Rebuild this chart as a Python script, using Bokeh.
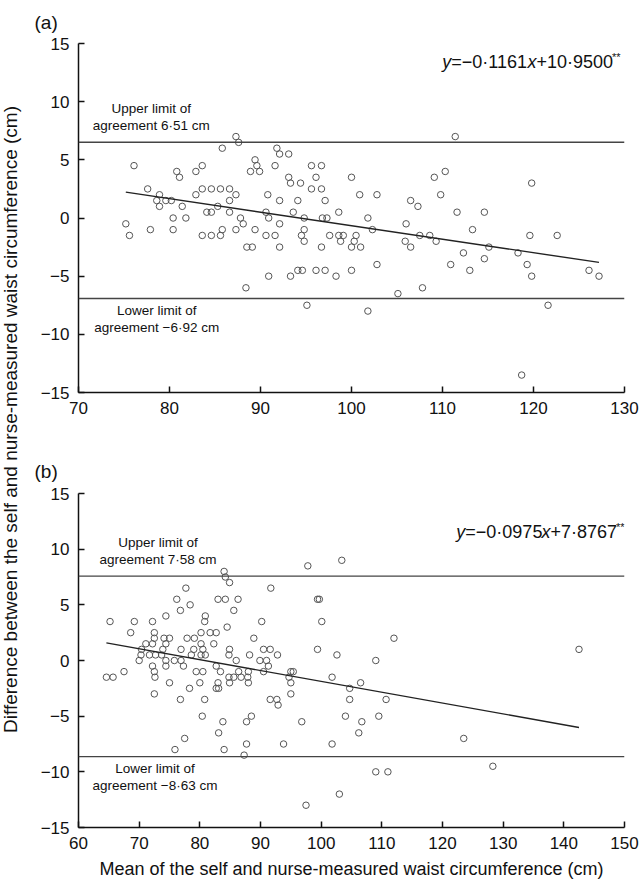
from math import pi

from bokeh.embed import file_html
from bokeh.layouts import column, row
from bokeh.models import FixedTicker, Label, Span
from bokeh.plotting import figure
from bokeh.resources import INLINE

FONT = "Liberation Sans"

# (a) mean of self & nurse waist (cm) vs difference self - nurse (cm)
a_mean = [75.2, 75.6, 76.1, 77.6, 77.9, 78.6, 78.9, 78.9, 79.6, 80.2,
          80.4, 80.4, 80.8, 81.1, 81.4, 81.8, 82.9, 82.9, 83.6, 83.6,
          83.6, 84.1, 84.6, 84.6, 84.6, 85.3, 85.6, 85.6, 85.8, 85.8,
          86.6, 86.6, 86.6, 87.3, 87.6, 87.3, 87.3, 87.8, 88.1, 88.4,
          88.5, 89.1, 88.9, 89.4, 89.6, 89.9, 89.4, 90.6, 90.6, 90.8,
          90.9, 90.9, 91.6, 91.6, 91.8, 92.1, 92.1, 92.1, 92.1, 93.1,
          93.1, 93.3, 93.3, 93.6, 94.1, 94.4, 94.1, 94.6, 94.5, 94.8,
          94.8, 94.8, 95.1, 95.6, 95.6, 96.1, 96.1, 96.7, 96.7, 96.7,
          97.1, 96.8, 97.3, 97.1, 97.6, 98.3, 98.6, 98.6, 98.8, 99.1,
          100.0, 100.0, 100.0, 100.3, 100.5, 100.9, 101.0, 101.8, 102.3, 102.8,
          102.8, 101.8, 105.1, 105.9, 106.0, 106.5, 106.5, 107.3, 107.5, 107.8,
          108.6, 109.1, 109.3, 109.8, 110.3, 110.9, 111.4, 111.6, 112.3, 113.0,
          113.3, 114.6, 114.6, 115.1, 118.3, 119.3, 119.6, 119.8, 119.8, 121.6,
          122.6, 126.1, 127.2, 118.7]
a_diff = [-0.5, -1.5, 4.5, 2.5, -1, 1.5, 2, 1, 1.5, 1.5,
          0, -1, 4, 3.5, 1, 0, 4, 2, 4.5, 2.5,
          -1.5, 0.5, 0.5, 2.5, -1.5, 1, 2.5, -1.5, -1, 6,
          2.5, 1.5, 0.5, 7, 6.5, 2, -1, 0, -0.5, -6,
          -2.5, -2.5, 4, 5, 4.5, 4, -1, 0.5, -1.5, 2,
          0, -5, 4.5, -1.5, 6, 5.5, 1.5, -0.5, -2.5, 5.5,
          3.5, 3, -5, 0.5, 1.5, 3, -4.5, -4.5, -1.5, 0,
          -1, -2, -7.5, 4.5, 2.5, 3.5, -4.5, 4.5, 2.5, -2.5,
          1.5, 0, 0, -4.5, -1.5, -5, 0.5, -1.5, -2, -1.5,
          3.5, -2.5, -4.5, -2, -1.5, 2, -2.5, 0, -1, 2,
          -4, -8, -6.5, -2, -0.5, 1.5, -2.5, 1, -1.5, -6,
          -1.5, 3.5, -2, 2, 4, -4, 7, 0.5, -3, -4.5,
          -1, 0.5, -3.5, -2.5, -3, -4, -1.5, 3, -5, -7.5,
          -1.5, -4.5, -5, -13.5]
a_limits = [6.51, -6.92]
a_fit = [-0.1161, 10.9500]
a_fit_label = ["\u22120\u00b71161", "10\u00b79500"]
a_xticks = [70, 80, 90, 100, 110, 120, 130]

# (b)
b_mean = [64.6, 65.7, 65.2, 67.5, 68.6, 69.2, 70.0, 70.3, 70.4, 71.1,
          71.7, 72.2, 72.2, 72.5, 72.5, 72.7, 72.2, 72.5, 72.6, 72.5,
          73.7, 73.9, 74.1, 74.4, 74.4, 74.4, 74.4, 75.0, 75.0, 75.8,
          75.9, 76.2, 76.8, 76.8, 76.9, 76.9, 77.3, 77.7, 77.5, 77.9,
          78.3, 78.4, 78.6, 79.0, 79.1, 79.4, 80.0, 80.2, 80.2, 80.2,
          80.5, 80.5, 80.4, 80.8, 80.9, 80.9, 80.8, 81.7, 82.3, 82.7,
          82.7, 83.0, 82.7, 83.1, 83.4, 83.0, 83.1, 83.8, 84.2, 84.0,
          84.2, 84.9, 84.5, 84.8, 84.9, 84.8, 84.9, 84.0, 85.6, 85.6,
          86.0, 86.3, 86.4, 86.8, 87.3, 87.7, 87.7, 87.9, 88.0, 88.0,
          88.2, 88.5, 88.9, 89.9, 90.2, 90.5, 90.5, 91.0, 91.3, 91.6,
          91.7, 91.6, 92.7, 92.8, 92.9, 93.8, 94.7, 95.0, 95.4, 95.0,
          95.0, 96.8, 97.5, 97.8, 103.4, 99.4, 99.7, 100.1, 99.4, 102.6,
          112.0, 109.0, 142.5, 101.8, 104.7, 106.5, 104.7, 110.7, 104.0, 109.5,
          106.7, 106.2, 101.8, 123.5, 109.0, 111.0, 128.3, 103.0]
b_diff = [-1.5, -1.5, 3.5, -1, 2.5, 3.5, 0, 0.5, 1, 1.5,
          0.5, 1.5, 3.5, 2.5, 2, 0.5, -0.5, -1, -1.5, -3,
          0.5, 1, 2, 1.5, 0, -0.5, 4, 2, -2, 0,
          -8, 5.5, 4.5, -3.5, 1, 0, -0.5, 6.5, -7, 2,
          -2.5, 5, 0.5, 1, 2, -1, -2, 2.5, 1.5, 0.5,
          1, -1, -5, 3.5, 4, 0.5, -3.5, 2.5, 1.5, 2.5,
          -0.5, -2, -2.5, -2.5, -1, 5.5, -6.5, -5.5, 5.5, 8,
          7.5, 7, 3, 0.5, 1, -1.5, -2, -8, 4.5, -1.5,
          0, 5.5, -1, -1.5, -8.5, -5.5, -7.5, -1.5, -1, -2,
          0.5, -5, 2, 0, 3.5, 1, -1, 0, -0.5, 1,
          6.5, -3.5, -3.5, 0.5, -4, -7.5, -1.5, -1, -1, -2,
          -3, -5.5, -13, 8.5, 9, 5.5, 5.5, 3.5, 1, 0.5,
          2, 0, 1, -1.5, -2.5, -2, -3.5, -3.5, -5, -5,
          -5.5, -6.5, -7.5, -7, -10, -10, -9.5, -12]
b_limits = [7.58, -8.63]
b_fit = [-0.0975, 7.8767]
b_fit_label = ["\u22120\u00b70975", "7\u00b78767"]
b_xticks = [60, 70, 80, 90, 100, 110, 120, 130, 140, 150]

y_ticks = [-15, -10, -5, 0, 5, 10, 15]

Y_TITLE = "Difference between the self and nurse-measured waist circumference (cm)"
X_TITLE = "Mean of the self and nurse-measured waist circumference (cm)"

# advance widths (per 1000 em) of Liberation Sans, to butt the equation pieces together
ADV = {"y": 500, "x": 500, "=": 584, "\u2212": 584, "+": 584, "\u00b7": 278, "*": 389}


def text_width(s, size):
    return sum(ADV.get(c, 556) for c in s) * size / 1000


def add_text(p, text, size="13.5px", **kw):
    p.add_layout(Label(text=text, text_font=FONT, text_font_size=size,
                       text_color="#111111", **kw))


def make_panel(tag, tag_standoff, xs, ys, xticks, limits, fit, fit_label, upper_x, lower_x,
               eq_y, eq_pad, height, bottom, right, x_title=None):
    p = figure(width=608, height=height, x_range=(xticks[0], xticks[-1]), y_range=(-15, 15),
               output_backend="svg", toolbar_location=None,
               min_border_left=44, min_border_right=right, min_border_top=43, min_border_bottom=bottom)
    p.outline_line_color = None
    p.grid.visible = False

    # panel letter sits left of the frame, near the top edge
    p.title.text = tag
    p.title.align = "left"
    p.title.vertical_align = "top"
    p.title.offset = -44
    p.title.standoff = tag_standoff
    p.title.text_font = FONT
    p.title.text_font_size = "19px"
    p.title.text_font_style = "normal"
    p.title.text_color = "#111111"

    p.xaxis.ticker = FixedTicker(ticks=xticks)
    p.yaxis.ticker = FixedTicker(ticks=y_ticks)
    p.yaxis.major_label_overrides = {v: str(v).replace("-", "\u2212") for v in y_ticks}
    p.axis.major_tick_in = 6
    p.axis.major_tick_out = 0
    p.axis.minor_tick_line_color = None
    p.axis.axis_line_width = 1.5
    p.axis.major_tick_line_width = 1.5
    p.axis.axis_line_color = "#111111"
    p.axis.major_tick_line_color = "#111111"
    p.axis.major_label_text_font = FONT
    p.axis.major_label_text_font_size = "17px"
    p.axis.major_label_text_color = "#111111"
    p.yaxis.major_label_standoff = 9
    p.xaxis.major_label_standoff = 9
    if x_title:
        p.xaxis.axis_label = x_title
        p.xaxis.axis_label_text_font = FONT
        p.xaxis.axis_label_text_font_size = "18px"
        p.xaxis.axis_label_text_font_style = "normal"
        p.xaxis.axis_label_text_color = "#111111"
        p.xaxis.axis_label_standoff = 7

    # limits of agreement
    for lim in limits:
        p.add_layout(Span(location=lim, dimension="width", line_color="#444444", line_width=1.4))

    p.scatter(xs, ys, size=6.5, marker="circle", fill_color=None,
              line_color="#555555", line_width=1)

    # fitted line over the range of the data
    xl = [min(xs), max(xs)]
    p.line(xl, [fit[0] * x + fit[1] for x in xl], line_color="#222222", line_width=1.4)

    up, low = limits
    add_text(p, "Upper limit of", x=upper_x, y=up, y_offset=34, text_align="center", text_baseline="middle")
    add_text(p, "agreement %s cm" % f"{up:.2f}".replace(".", "\u00b7"), x=upper_x, y=up, y_offset=17,
             text_align="center", text_baseline="middle")
    add_text(p, "Lower limit of", x=lower_x, y=low, y_offset=-12, text_align="center", text_baseline="middle")
    add_text(p, "agreement %s cm" % f"{low:.2f}".replace(".", "\u00b7").replace("-", "\u2212"),
             x=lower_x, y=low, y_offset=-28.5, text_align="center", text_baseline="middle")

    # y = slope x + intercept**, italic y and x
    parts = [("y", "italic", 18, 0), ("=" + fit_label[0], "normal", 18, 0), ("x", "italic", 18, 0),
             ("+" + fit_label[1], "normal", 18, 0), ("**", "normal", 11, 5)]
    off = -sum(text_width(t, s) for t, _, s, _ in parts) + eq_pad
    for t, style, s, rise in parts:
        add_text(p, t, size=f"{s}px", x=xticks[-1], y=eq_y, x_offset=off, y_offset=rise,
                 text_font_style=style, text_align="left", text_baseline="middle")
        off += text_width(t, s)
    return p


pa = make_panel("(a)", 17, a_mean, a_diff, a_xticks, a_limits, a_fit, a_fit_label,
                upper_x=78.0, lower_x=78.6, eq_y=13.4, eq_pad=-4,
                height=450, bottom=58, right=15)
pb = make_panel("(b)", 19, b_mean, b_diff, b_xticks, b_limits, b_fit, b_fit_label,
                upper_x=73.1, lower_x=72.6, eq_y=11.55, eq_pad=0,
                height=436, bottom=59, right=18, x_title=X_TITLE)

# shared y title in a narrow strip on the left
ylab = figure(width=34, height=886, x_axis_type=None, y_axis_type=None,
              output_backend="svg", toolbar_location=None, min_border=0)
ylab.outline_line_color = None
ylab.grid.visible = False
ylab.add_layout(Label(x=10, y=467, x_units="screen", y_units="screen", text=Y_TITLE, angle=pi / 2,
                      text_align="center", text_baseline="middle", text_font=FONT,
                      text_font_size="19px", text_color="#111111"))

page = row(ylab, column(pa, pb))

open("out.html", "w").write(file_html(page, INLINE))
